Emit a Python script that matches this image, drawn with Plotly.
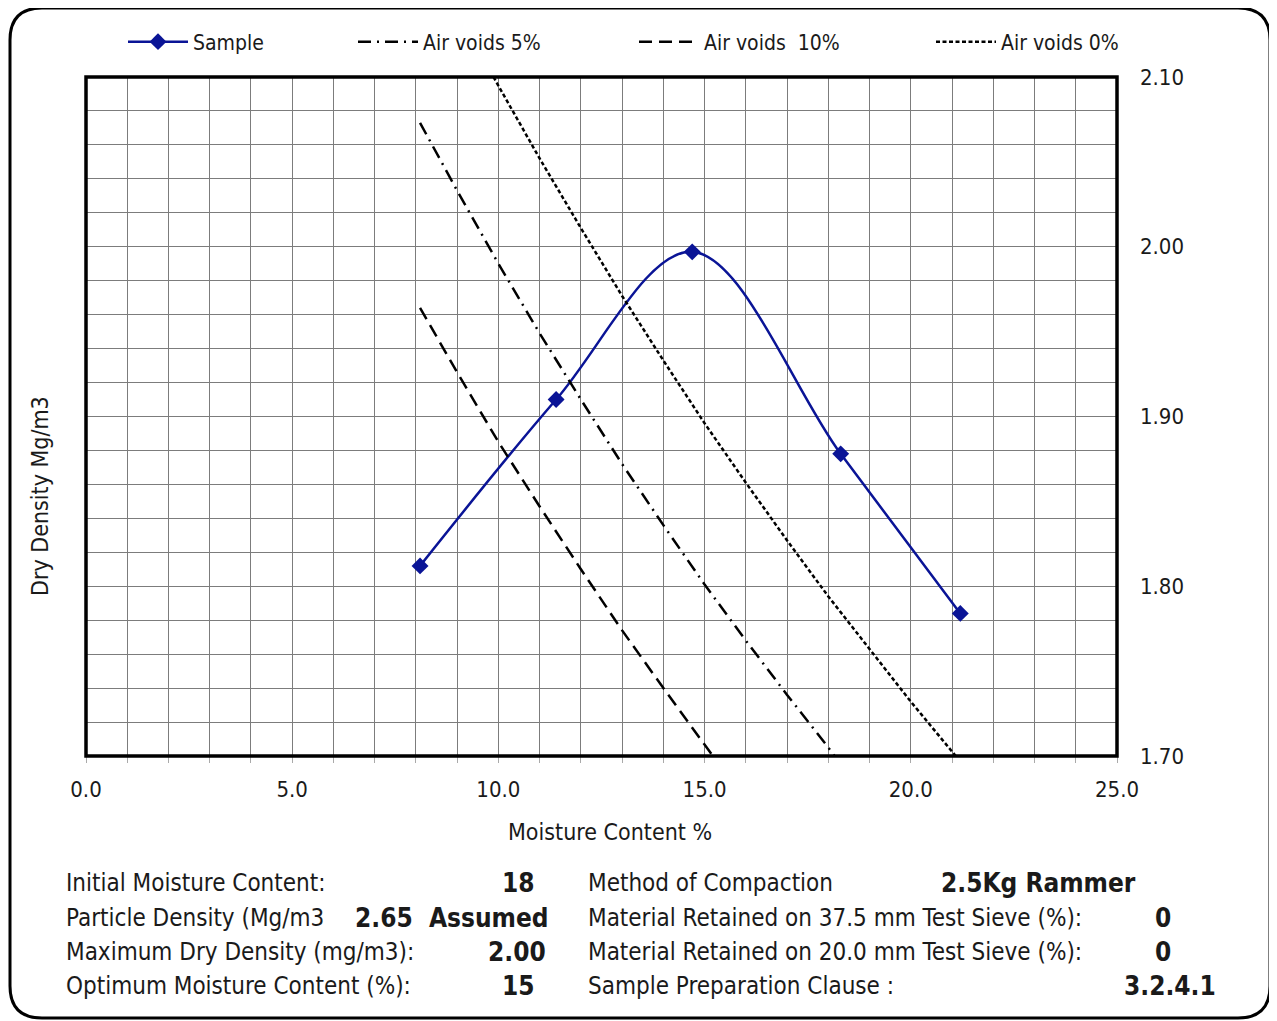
import plotly.graph_objects as go

# ---- data ----
moisture = [8.1, 11.4, 14.7, 18.3, 21.2]
dry_density = [1.812, 1.910, 1.997, 1.878, 1.784]

av0_moisture = [9.88, 11, 12, 13, 14, 15, 16, 17, 18, 19, 20, 21.09]
av0_density = [2.100, 2.052, 2.011, 1.971, 1.933, 1.896, 1.861, 1.827, 1.794, 1.763, 1.732, 1.700]

av5_moisture = [8.1, 9, 10, 11, 12, 13, 14, 15, 16, 17, 18, 18.15]
av5_density = [2.073, 2.033, 1.990, 1.949, 1.910, 1.872, 1.836, 1.801, 1.768, 1.736, 1.705, 1.700]

av10_moisture = [8.1, 9, 10, 11, 12, 13, 14, 15, 15.2]
av10_density = [1.964, 1.926, 1.885, 1.847, 1.810, 1.774, 1.740, 1.707, 1.700]

x_ticks = [0, 5, 10, 15, 20, 25]
x_tick_labels = ["0.0", "5.0", "10.0", "15.0", "20.0", "25.0"]
y_ticks = [1.70, 1.80, 1.90, 2.00, 2.10]
y_tick_labels = ["1.70", "1.80", "1.90", "2.00", "2.10"]

left_labels = ["Initial Moisture Content:", "Particle Density (Mg/m3",
               "Maximum Dry Density (mg/m3):", "Optimum Moisture Content (%):"]
left_values = ["18", "2.65  Assumed", "2.00", "15"]
right_labels = ["Method of Compaction", "Material Retained on 37.5 mm Test Sieve (%):",
                "Material Retained on 20.0 mm Test Sieve (%):", "Sample Preparation Clause :"]
right_values = ["2.5Kg Rammer", "0", "0", "3.2.4.1"]

# ---- layout geometry (screen pixels) ----
OFF = 8                      # page body margin
SW, SH = 1277, 1021
L, R, T, B = 86, 1117, 77, 756
W, H = SW - OFF, SH - OFF
FONT = "Tahoma, 'DejaVu Sans Condensed', 'DejaVu Sans', sans-serif"
TXT = "#1a1a1a"


def px(x):
    return (x - L) / (R - L)


def py(y):
    return (B - y) / (B - T)


fig = go.Figure()
fig.add_trace(go.Scatter(x=moisture, y=dry_density, name="Sample", mode="lines+markers",
                         line=dict(color="#0a1496", width=2.5, shape="spline"),
                         marker=dict(symbol="diamond", size=13, color="#0a1496"),
                         legend="legend"))
fig.add_trace(go.Scatter(x=av5_moisture, y=av5_density, name="Air voids 5%", mode="lines",
                         line=dict(color="black", width=2.5, dash="13px,6px,2px,6px"),
                         legend="legend2"))
fig.add_trace(go.Scatter(x=av10_moisture, y=av10_density, name="Air voids  10%", mode="lines",
                         line=dict(color="black", width=2.5, dash="13px,7px"),
                         legend="legend3"))
fig.add_trace(go.Scatter(x=av0_moisture, y=av0_density, name="Air voids 0%", mode="lines",
                         line=dict(color="black", width=2.5, dash="4px,2.5px"),
                         legend="legend4"))

leg_common = dict(orientation="h", yanchor="middle", xanchor="left", y=py(42),
                  itemwidth=60,
                  bgcolor="rgba(0,0,0,0)", font=dict(family=FONT, size=21, color=TXT))
fig.update_layout(
    showlegend=True,
    legend=dict(x=px(195 - 72), **leg_common),
    legend2=dict(x=px(425 - 72), **leg_common),
    legend3=dict(x=px(706 - 72), **leg_common),
    legend4=dict(x=px(1003 - 72), **leg_common),
)

fig.update_xaxes(range=[0, 25], tickvals=x_ticks, ticktext=x_tick_labels,
                 showgrid=True, gridcolor="#7c7c7c", gridwidth=1, zeroline=False,
                 ticks="outside", ticklen=6, tickcolor="#aaaaaa",
                 minor=dict(dtick=1, showgrid=True, gridcolor="#7c7c7c", gridwidth=1,
                            ticks="outside", ticklen=6, tickcolor="#aaaaaa"),
                 tickfont=dict(family=FONT, size=22, color=TXT), ticklabelstandoff=8,
                 showline=False, fixedrange=True)
fig.update_yaxes(range=[1.70, 2.10], tickvals=y_ticks, ticktext=y_tick_labels, side="right",
                 showgrid=True, gridcolor="#7c7c7c", gridwidth=1, zeroline=False,
                 minor=dict(dtick=0.02, showgrid=True, gridcolor="#7c7c7c", gridwidth=1),
                 tickfont=dict(family=FONT, size=22, color=TXT), ticklabelstandoff=22,
                 showline=False, fixedrange=True)

shapes = [
    dict(type="rect", xref="x domain", yref="y domain", x0=0, x1=1, y0=0, y1=1,
         line=dict(color="black", width=3.5), layer="above"),
]
# rounded outer frame
fx0, fx1, fy0, fy1, r = 10, 1270, 8, 1018, 32
path = (f"M {px(fx0 + r)},{py(fy0)} L {px(fx1 - r)},{py(fy0)} "
        f"Q {px(fx1)},{py(fy0)} {px(fx1)},{py(fy0 + r)} "
        f"L {px(fx1)},{py(fy1 - r)} Q {px(fx1)},{py(fy1)} {px(fx1 - r)},{py(fy1)} "
        f"L {px(fx0 + r)},{py(fy1)} Q {px(fx0)},{py(fy1)} {px(fx0)},{py(fy1 - r)} "
        f"L {px(fx0)},{py(fy0 + r)} Q {px(fx0)},{py(fy0)} {px(fx0 + r)},{py(fy0)} Z")
shapes.append(dict(type="path", xref="paper", yref="paper", path=path,
                   line=dict(color="black", width=3)))

annotations = [
    dict(text="Moisture Content %", x=px(610), y=py(832), xref="paper", yref="paper",
         xanchor="center", yanchor="middle",
         showarrow=False, font=dict(family=FONT, size=23, color=TXT)),
    dict(text="Dry Density Mg/m3", x=px(40), y=py(496), xref="paper", yref="paper",
         xanchor="center", yanchor="middle",
         showarrow=False, textangle=-90, font=dict(family=FONT, size=23, color=TXT)),
]
rows_y = [883, 918, 952, 986]
left_val_x = [518, 452, 517, 518]
right_val_x = [1038, 1163, 1163, 1170]
for i, yy in enumerate(rows_y):
    annotations.append(dict(text=left_labels[i], x=px(64), y=py(yy), xref="paper", yref="paper",
                            xanchor="left", yanchor="middle", showarrow=False,
                            font=dict(family=FONT, size=24, color=TXT)))
    annotations.append(dict(text=f"<b>{left_values[i]}</b>", x=px(left_val_x[i]), y=py(yy),
                            xref="paper", yref="paper", xanchor="center", yanchor="middle",
                            showarrow=False, font=dict(family=FONT, size=26, color=TXT)))
    annotations.append(dict(text=right_labels[i], x=px(586), y=py(yy), xref="paper", yref="paper",
                            xanchor="left", yanchor="middle", showarrow=False,
                            font=dict(family=FONT, size=24, color=TXT)))
    annotations.append(dict(text=f"<b>{right_values[i]}</b>", x=px(right_val_x[i]), y=py(yy),
                            xref="paper", yref="paper", xanchor="center", yanchor="middle",
                            showarrow=False, font=dict(family=FONT, size=26, color=TXT)))

fig.update_layout(
    width=W, height=H,
    margin=dict(l=L - OFF, r=W - (R - OFF), t=T - OFF, b=H - (B - OFF), autoexpand=False),
    paper_bgcolor="white", plot_bgcolor="white",
    shapes=shapes, annotations=annotations,
    font=dict(family=FONT, color=TXT),
)

fig.write_html("out.html", config={"displayModeBar": False})
